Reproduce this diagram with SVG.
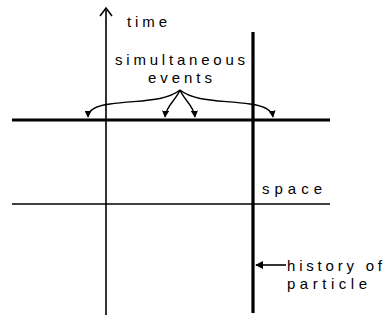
<svg xmlns="http://www.w3.org/2000/svg" width="387" height="320" viewBox="0 0 387 320">
<style>
.t{font-family:"Liberation Sans",Arial,sans-serif;font-size:15px;fill:#000}
.thin{stroke:#000;stroke-width:1.6;fill:none}
.thick{stroke:#000;stroke-width:3.2;fill:none}
.br{stroke:#000;stroke-width:1.4;fill:none}
</style>
<defs>
<marker id="ah" viewBox="0 0 10 10" refX="9" refY="5" markerWidth="5" markerHeight="5" orient="auto-start-reverse"><path d="M0,0 L10,5 L0,10 z" fill="#000"/></marker>
</defs>
<g id="connectors">
<path id="time-axis" class="thin" d="M106,315 V10"/>
<path class="thin" d="M100,16 L106,8 L112,16"/>
<path id="space-now" class="thick" d="M12,120 H330"/>
<path id="space-earlier" class="thin" d="M12,204 H330"/>
<path id="particle" class="thick" d="M253,32 V313"/>
<path class="br" d="M180,90 C165,102 140,100 110,104 C95,106 88,110 88,117" marker-end="url(#ah)"/>
<path class="br" d="M180,90 C195,102 220,100 250,104 C265,106 272,110 273,117" marker-end="url(#ah)"/>
<path class="br" d="M180,90 C176,100 166,106 165,117" marker-end="url(#ah)"/>
<path class="br" d="M180,90 C184,100 194,106 195,117" marker-end="url(#ah)"/>
<path class="thin" d="M286,265 H256" marker-end="url(#ah)"/>
</g>
<g id="label-time"><text class="t" x="127" y="27" textLength="40" lengthAdjust="spacing">time</text></g>
<g id="label-simultaneous"><text class="t" x="115" y="65" textLength="130" lengthAdjust="spacing">simultaneous</text><text class="t" x="148" y="83" textLength="64" lengthAdjust="spacing">events</text></g>
<g id="label-space"><text class="t" x="262" y="194" textLength="60" lengthAdjust="spacing">space</text></g>
<g id="label-history"><text class="t" x="287" y="271" textLength="95" lengthAdjust="spacing">history of</text><text class="t" x="287" y="289" textLength="80" lengthAdjust="spacing">particle</text></g>
</svg>
